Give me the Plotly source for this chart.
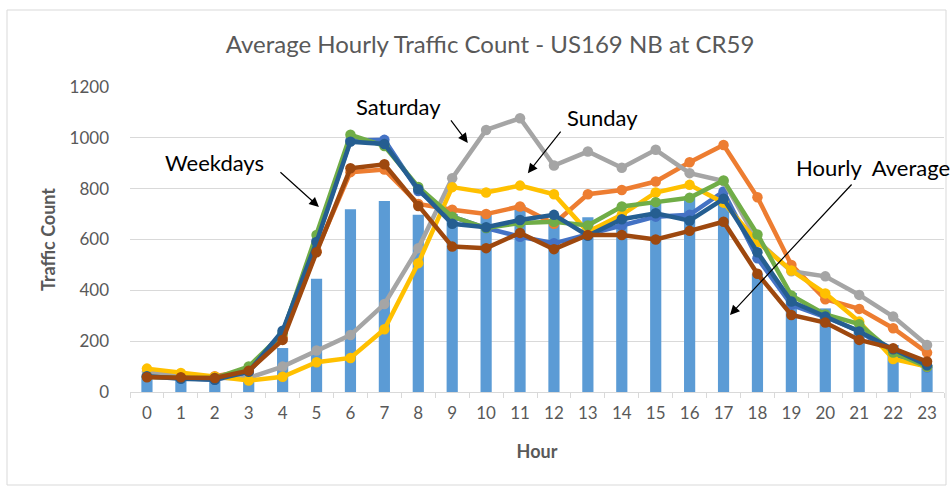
import plotly.graph_objects as go

hours = [str(h) for h in range(24)]

hourly_average = [65, 50, 45, 60, 173, 446, 719, 751, 697, 700, 700, 735,
                  670, 688, 685, 750, 770, 740, 465, 390, 329, 237, 185, 105]

monday = [68, 55, 48, 78, 235, 595, 990, 992, 791, 690, 645, 611,
          585, 618, 655, 690, 697, 789, 526, 343, 295, 240, 150, 97]
friday = [65, 58, 62, 85, 215, 555, 865, 875, 740, 717, 700, 730,
          662, 778, 795, 828, 904, 972, 766, 500, 365, 327, 251, 155]
saturday = [80, 62, 55, 55, 100, 163, 224, 346, 566, 841, 1031, 1077,
            891, 946, 882, 953, 861, 830, 595, 475, 455, 382, 297, 185]
sunday = [92, 75, 60, 45, 60, 117, 134, 247, 507, 806, 785, 812,
          778, 630, 697, 785, 815, 745, 590, 478, 388, 277, 130, 100]
tuesday = [60, 55, 55, 100, 230, 618, 1012, 968, 807, 690, 645, 665,
           670, 655, 730, 747, 764, 832, 620, 380, 305, 267, 155, 100]
wednesday = [62, 52, 48, 80, 241, 590, 985, 976, 798, 662, 648, 677,
             697, 615, 680, 703, 674, 760, 550, 356, 297, 238, 168, 105]
thursday = [58, 58, 55, 84, 205, 550, 880, 896, 732, 572, 566, 626,
            562, 618, 618, 600, 634, 670, 465, 303, 273, 205, 172, 120]

line_series = [
    ("Monday", monday, "#4472C4"),
    ("Friday", friday, "#ED7D31"),
    ("Saturday", saturday, "#A5A5A5"),
    ("Sunday", sunday, "#FFC000"),
    ("Tuesday", tuesday, "#70AD47"),
    ("Wednesday", wednesday, "#255E91"),
    ("Thursday", thursday, "#9E480E"),
]

FONT = "Lato"
GREY_TXT = "#595959"

fig = go.Figure()
fig.add_trace(go.Bar(x=hours, y=hourly_average, name="Hourly Average",
                     marker=dict(color="#5B9BD5", line=dict(width=0)),
                     width=0.33))
for name, vals, col in line_series:
    fig.add_trace(go.Scatter(x=hours, y=vals, name=name, mode="lines+markers",
                             line=dict(color=col, width=4.5),
                             marker=dict(color=col, size=10.5)))

# pixel geometry of plot area
L, R, T, B = 130, 944, 87, 392
W, H = 952, 487


def px(xp):
    return (xp - L) / (R - L)


def py(yp):
    return (B - yp) / (B - T)


annotations = []
for txt, cx, cy in [("Weekdays", 214, 162), ("Saturday", 398, 107),
                    ("Sunday", 602, 117), ("Hourly  Average", 873, 167)]:
    annotations.append(dict(text=txt, x=px(cx), y=py(cy), xref="paper", yref="paper",
                            showarrow=False, xanchor="center", yanchor="middle",
                            font=dict(family=FONT, size=22, color="#000000")))
for hx, hy, ax, ay in [(5.07, 728, -40, -36), (9.46, 980, -18, -24),
                       (11.23, 861, 34, -43), (17.19, 303, 123, -132)]:
    annotations.append(dict(x=hx, y=hy, xref="x", yref="y", ax=ax, ay=ay,
                            axref="pixel", ayref="pixel", text="", showarrow=True,
                            arrowhead=2, arrowsize=1.6, arrowwidth=1.2,
                            arrowcolor="#000000"))

fig.update_layout(
    width=W, height=H,
    margin=dict(l=L, r=W - R, t=T, b=H - B, autoexpand=False),
    paper_bgcolor="white", plot_bgcolor="white",
    showlegend=False,
    barmode="overlay",
    title=dict(text="Average Hourly Traffic Count - US169 NB at CR59",
               xref="container", x=490 / W, xanchor="center",
               y=1 - 45 / H, yanchor="middle",
               font=dict(family=FONT, size=24, color=GREY_TXT)),
    font=dict(family=FONT, color=GREY_TXT),
    annotations=annotations,
    shapes=[dict(type="rect", xref="paper", yref="paper",
                 x0=px(7), x1=px(946), y0=py(485), y1=py(10),
                 line=dict(color="#D9D9D9", width=1), layer="below")],
)

fig.update_xaxes(type="category", range=[-0.5, len(hours) - 0.5],
                 tickson="boundaries", ticks="outside",
                 ticklen=5, tickcolor="#D9D9D9", showline=True, automargin=False,
                 linecolor="#D9D9D9", linewidth=1, showgrid=False,
                 tickfont=dict(family=FONT, size=17, color=GREY_TXT),
                 ticklabelstandoff=6,
                 title=dict(text="<b>Hour</b>", standoff=22,
                            font=dict(family=FONT, size=18, color=GREY_TXT)))
fig.update_yaxes(range=[0, 1200], dtick=200, showgrid=True, gridcolor="#D9D9D9",
                 gridwidth=1, zeroline=False, showline=False, ticks="", automargin=False,
                 tickfont=dict(family=FONT, size=17, color=GREY_TXT),
                 ticklabelstandoff=20,
                 title=dict(text="<b>Traffic Count</b>", standoff=9,
                            font=dict(family=FONT, size=18, color=GREY_TXT)))

fig.write_html("out.html", config={"displayModeBar": False},
               post_script="document.body.style.margin='0px';")
